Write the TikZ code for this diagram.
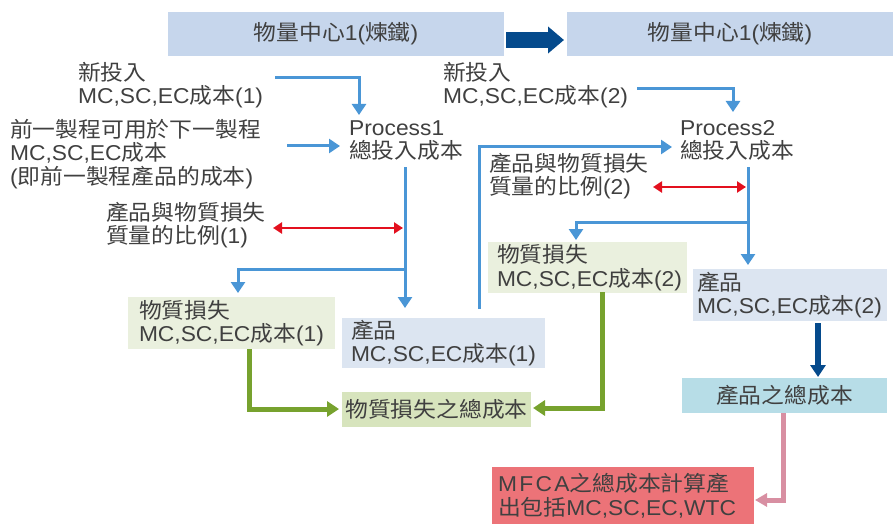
\documentclass[tikz,border=0pt]{standalone}
\usepackage{fontspec}
\setmainfont{Liberation Sans}[FakeStretch=1.06]
\newfontfamily\zhf{Noto Sans CJK TC}[FakeStretch=1.06]
\newcommand\zh[1]{{\zhf #1}}
\usetikzlibrary{arrows.meta}
\definecolor{tg}{HTML}{404040}
\definecolor{hdrc}{HTML}{C6D6EC}
\definecolor{mlc}{HTML}{EAF0DE}
\definecolor{prc}{HTML}{DCE5F1}
\definecolor{mltc}{HTML}{D7E4BD}
\definecolor{prtc}{HTML}{B7DDE7}
\definecolor{mfc}{HTML}{EC7378}
\definecolor{blu}{HTML}{4A96D6}
\definecolor{rdc}{HTML}{E3101E}
\definecolor{grc}{HTML}{77A22E}
\definecolor{nvc}{HTML}{054A8C}
\definecolor{pkc}{HTML}{D88FA2}
\tikzset{
  txt/.style={inner sep=0pt, align=left, anchor=west, text=tg},
  bx/.style={inner sep=0pt, align=left, text=tg},
  barr/.style={draw=blu, line width=3pt, -{Triangle[width=14pt,length=11pt]}},
  rarr/.style={draw=rdc, line width=2.6pt, {Triangle[width=11pt,length=9pt]}-{Triangle[width=11pt,length=9pt]}},
  garr/.style={draw=grc, line width=5pt, -{Triangle[width=15pt,length=12pt]}},
  narr/.style={draw=nvc, line width=5.5pt, -{Triangle[width=15pt,length=12pt]}},
  parr/.style={draw=pkc, line width=5pt, -{Triangle[width=13pt,length=12pt]}},
}
\begin{document}
\begin{tikzpicture}[x=1pt,y=-1pt,font=\fontsize{21.5}{23.5}\selectfont]
\useasboundingbox (0,0) rectangle (894,524);
% headers
\node[bx, fill=hdrc, minimum width=336pt, minimum height=44pt, align=center] (h1) at (336,34) {\zh{物量中心}1(\zh{煉鐵})};
\node[bx, fill=hdrc, minimum width=326pt, minimum height=44pt, align=center] (h2) at (730,34) {\zh{物量中心}1(\zh{煉鐵})};
\coordinate (ha) at (506,40);
\coordinate (hb) at (564,40);
\draw[draw=nvc, line width=16pt, -{Triangle[width=26pt,length=16pt]}] (ha) -- (hb);
% texts
\node[txt] (n1) at (78,85) {\zh{新投入}\\MC,SC,EC\zh{成本}(1)};
\node[txt] (n2) at (10,154) {\zh{前一製程可用於下一製程}\\MC,SC,EC\zh{成本}\\(\zh{即前一製程產品的成本})};
\node[txt] (r1t) at (106,225) {\zh{產品與物質損失}\\\zh{質量的比例}(1)};
\node[txt] (p1) at (349,140.5) {Process1\\\zh{總投入成本}};
\node[txt] (n3) at (443,85) {\zh{新投入}\\MC,SC,EC\zh{成本}(2)};
\node[txt] (p2) at (680,140.5) {Process2\\\zh{總投入成本}};
\node[txt] (r2t) at (489,176) {\zh{產品與物質損失}\\\zh{質量的比例}(2)};
% boxes
\node[bx, fill=mlc, minimum width=207pt, minimum height=52pt, text width=185pt] (ml1) at (231.5,323) {\zh{物質損失}\\MC,SC,EC\zh{成本}(1)};
\node[bx, fill=prc, minimum width=203pt, minimum height=50pt, text width=185pt] (pr1) at (443.5,343) {\zh{產品}\\MC,SC,EC\zh{成本}(1)};
\node[bx, fill=mlc, minimum width=199pt, minimum height=51pt, text width=181pt] (ml2) at (587.5,267.5) {\zh{物質損失}\\MC,SC,EC\zh{成本}(2)};
\node[bx, fill=prc, minimum width=194pt, minimum height=52pt, text width=186pt] (pr2) at (790,295) {\zh{產品}\\MC,SC,EC\zh{成本}(2)};
\node[bx, fill=mltc, minimum width=189pt, minimum height=35pt, align=center] (mlt) at (436.5,409.5) {\zh{物質損失之總成本}};
\node[bx, fill=prtc, minimum width=205pt, minimum height=35pt, align=center] (prt) at (784.5,395.5) {\zh{產品之總成本}};
\node[bx, fill=mfc, minimum width=262pt, minimum height=57pt, text width=250pt] (mf) at (623,495.5) {{\addfontfeature{LetterSpace=11}MFCA}\zh{之總成本計算產}\\\zh{出包括}MC,SC,EC,WTC};
% connector coordinates
\coordinate (b1s) at (275,78);
\coordinate (b1e) at (359,115);
\coordinate (b2s) at (287,146);
\coordinate (b2e) at (340,146);
\coordinate (b3s) at (405,167);
\coordinate (b3e) at (405,308);
\coordinate (b4s) at (405,269);
\coordinate (b4e) at (238,293);
\coordinate (r1s) at (273,228);
\coordinate (r1e) at (403,228);
\coordinate (b5s) at (479,309);
\coordinate (b5e) at (672,147);
\coordinate (b6s) at (637,89);
\coordinate (b6e) at (733,112);
\coordinate (b7s) at (748,167);
\coordinate (b7e) at (748,265);
\coordinate (b8s) at (748,222);
\coordinate (b8e) at (576,240);
\coordinate (r2s) at (653,187);
\coordinate (r2e) at (746,187);
\coordinate (g1s) at (249,349);
\coordinate (g1e) at (339,409);
\coordinate (g2s) at (602,292);
\coordinate (g2e) at (533,408);
\coordinate (nvs) at (818,323);
\coordinate (nve) at (818,377);
\coordinate (pks) at (783,413);
\coordinate (pke) at (755,500);
% connectors
\draw[barr] (b1s) -| (b1e);
\draw[barr] (b2s) -- (b2e);
\draw[barr] (b3s) -- (b3e);
\draw[barr] (b4s) -| (b4e);
\draw[rarr] (r1s) -- (r1e);
\draw[barr] (b5s) |- (b5e);
\draw[barr] (b6s) -| (b6e);
\draw[barr] (b7s) -- (b7e);
\draw[barr] (b8s) -| (b8e);
\draw[rarr] (r2s) -- (r2e);
\draw[garr] (g1s) |- (g1e);
\draw[garr] (g2s) |- (g2e);
\draw[narr] (nvs) -- (nve);
\draw[parr] (pks) |- (pke);
\end{tikzpicture}
\end{document}
